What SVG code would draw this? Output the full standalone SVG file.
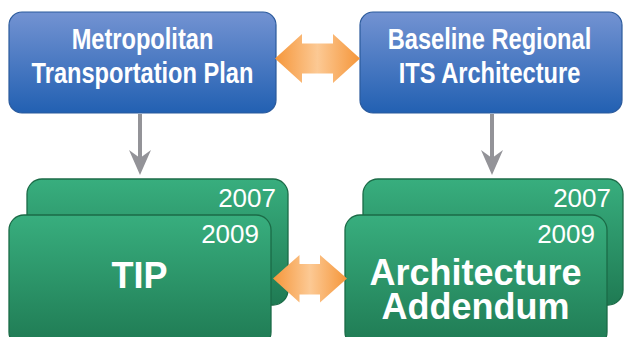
<svg xmlns="http://www.w3.org/2000/svg" width="624" height="337" viewBox="0 0 624 337">
<defs>
<linearGradient id="blue" x1="0" y1="0" x2="0" y2="1">
<stop offset="0" stop-color="#7393d2"/>
<stop offset="1" stop-color="#2260b2"/>
</linearGradient>
<linearGradient id="green" x1="0" y1="0" x2="0" y2="1">
<stop offset="0" stop-color="#38ae7e"/>
<stop offset="1" stop-color="#1f7a53"/>
</linearGradient>
<linearGradient id="orangeTop" gradientUnits="userSpaceOnUse" x1="275" y1="0" x2="360" y2="0">
<stop offset="0" stop-color="#f5963a"/>
<stop offset="0.5" stop-color="#fcc994"/>
<stop offset="1" stop-color="#f5963a"/>
</linearGradient>
<linearGradient id="orangeBot" gradientUnits="userSpaceOnUse" x1="273" y1="0" x2="347" y2="0">
<stop offset="0" stop-color="#f5963a"/>
<stop offset="0.5" stop-color="#fcc994"/>
<stop offset="1" stop-color="#f5963a"/>
</linearGradient>
<marker id="grayHead" viewBox="0 0 25 22" refX="8" refY="11" markerWidth="25" markerHeight="22" markerUnits="userSpaceOnUse" orient="auto">
<path d="M0 0 L8 11 L0 22 L25 11 Z" fill="#939398"/>
</marker>
<style>
.blue{fill:url(#blue);stroke:#2b5a9c;stroke-width:1.2}
.green{fill:url(#green);stroke:#1b6b47;stroke-width:1.3}
.bt{font-family:"Liberation Sans",Arial,sans-serif;font-weight:bold;font-size:29px;fill:#fff;text-anchor:middle}
.yr{font-family:"Liberation Sans",Arial,sans-serif;font-size:26px;fill:#fff;text-anchor:end}
.big{font-family:"Liberation Sans",Arial,sans-serif;font-weight:bold;font-size:36px;fill:#fff;text-anchor:middle}
.conn{stroke:#939398;stroke-width:4;fill:none}
</style>
</defs>

<g id="mtp">
<rect class="blue" x="9" y="12" width="267" height="101" rx="13"/>
<g transform="translate(142.5 0) scale(0.815 1)">
<text class="bt" x="0" y="49.5">Metropolitan</text>
<text class="bt" x="0" y="83.5">Transportation Plan</text>
</g>
</g>

<g id="its">
<rect class="blue" x="360" y="12" width="262" height="101" rx="13"/>
<g transform="translate(489.5 0) scale(0.815 1)">
<text class="bt" x="0" y="49.5">Baseline Regional</text>
<text class="bt" x="0" y="83.5">ITS Architecture</text>
</g>
</g>

<g id="tip2007">
<rect class="green" x="27" y="179" width="261" height="126" rx="15"/>
<text class="yr" x="276" y="207">2007</text>
</g>
<g id="tip2009">
<rect class="green" x="9" y="215" width="262" height="132" rx="15"/>
<text class="yr" x="259" y="243">2009</text>
<text class="big" x="139.5" y="288">TIP</text>
</g>

<g id="add2007">
<rect class="green" x="363" y="179" width="260" height="126" rx="15"/>
<text class="yr" x="611" y="207">2007</text>
</g>
<g id="add2009">
<rect class="green" x="345" y="215" width="262" height="132" rx="15"/>
<text class="yr" x="595" y="243">2009</text>
<text class="big" x="475.5" y="285">Architecture</text>
<text class="big" x="475.5" y="319">Addendum</text>
</g>

<g id="connectors">
<line class="conn" x1="140" y1="114" x2="140" y2="158" marker-end="url(#grayHead)"/>
<line class="conn" x1="492" y1="114" x2="492" y2="158" marker-end="url(#grayHead)"/>
<path d="M275 58.5 L302 34 L302 43.5 L333 43.5 L333 34 L360 58.5 L333 83 L333 73.5 L302 73.5 L302 83 Z" fill="url(#orangeTop)"/>
<path d="M273 278.5 L299.5 255 L299.5 264 L320 264 L320 255 L347 278.5 L320 302.5 L320 294.5 L299.5 294.5 L299.5 302.5 Z" fill="url(#orangeBot)"/>
</g>
</svg>
